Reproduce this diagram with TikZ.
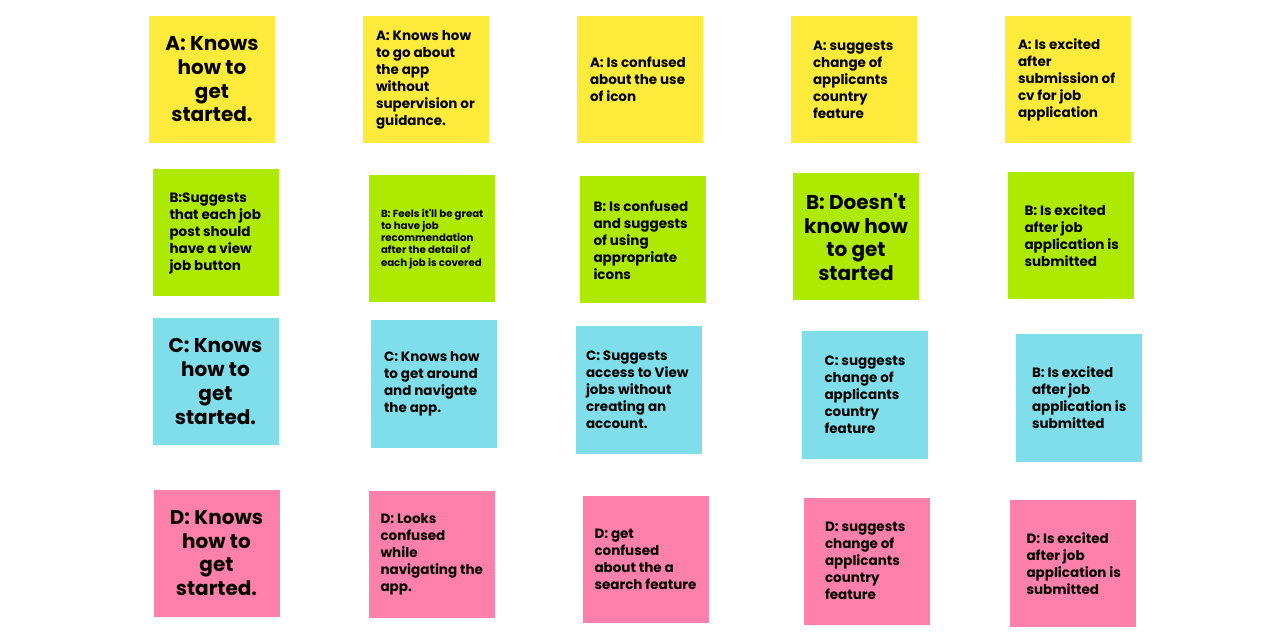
\documentclass[tikz,border=0pt]{standalone}
\usepackage{fontspec}
\setmainfont{Poppins}
\usepackage{tikz}
\usetikzlibrary{positioning}
\definecolor{NoteYellow}{RGB}{255,235,59}
\definecolor{NoteLime}{RGB}{174,234,0}
\definecolor{NoteCyan}{RGB}{128,222,234}
\definecolor{NotePink}{RGB}{255,128,171}
\tikzset{
  note/.style={fill=#1, minimum width=126pt, minimum height=127pt, inner sep=0pt,
    align=center, font=\bfseries\fontsize{20}{23.7}\selectfont},
  txt/.style={align=left, inner sep=0pt, font=\bfseries\fontsize{13.5}{17}\selectfont},
  tinytxt/.style={txt, font=\bfseries\fontsize{10.2}{12.2}\selectfont}
}
\begin{document}
\begin{tikzpicture}[x=1pt, y=-1pt]
        \useasboundingbox (0,0) rectangle (1283,644);
        % row A
        \node[note=NoteYellow] (a1) at (212,79.5) {A: Knows\\how to\\get\\started.};
        \node[note=NoteYellow] (a2) at (426,79.5) {};
        \node[note=NoteYellow] (a3) at (640,79.5) {};
        \node[note=NoteYellow] (a4) at (854,79.5) {};
        \node[note=NoteYellow] (a5) at (1068,79.5) {};
        \node[txt, right=13pt of a2.west] (ta2) {A: Knows how\\to go about\\the app\\without\\supervision or\\guidance.};
        \node[txt, right=13pt of a3.west] (ta3) {A: Is confused\\about the use\\of icon};
        \node[txt, right=22pt of a4.west] (ta4) {A: suggests\\change of\\applicants\\country\\feature};
        \node[txt, right=13pt of a5.west] (ta5) {A: Is excited\\after\\submission of\\cv for job\\application};
        % row B
        \node[note=NoteLime] (b1) at (215.5,233) {};
        \node[note=NoteLime] (b2) at (432,239) {};
        \node[note=NoteLime] (b3) at (642.5,240) {};
        \node[note=NoteLime] (b4) at (856,237) {B: Doesn\textquotesingle t\\know how\\to get\\started};
        \node[note=NoteLime] (b5) at (1070.5,236) {};
        \node[txt, right=17pt of b1.west] (tb1) {B:Suggests\\that each job\\post should\\have a view\\job button};
        \node[tinytxt, right=12pt of b2.west] (tb2) {B: Feels it\textquotesingle ll be great\\to have job\\recommendation\\after the detail of\\each job is covered};
        \node[txt, right=14pt of b3.west] (tb3) {B: Is confused\\and suggests\\of using\\appropriate\\icons};
        \node[txt, right=17pt of b5.west] (tb5) {B: Is excited\\after job\\application is\\submitted};
        % row C
        \node[note=NoteCyan] (c1) at (215.5,381.5) {C: Knows\\how to\\get\\started.};
        \node[note=NoteCyan] (c2) at (434,384) {};
        \node[note=NoteCyan] (c3) at (639,390) {};
        \node[note=NoteCyan] (c4) at (864.5,395) {};
        \node[note=NoteCyan] (c5) at (1079,398) {};
        \node[txt, right=13pt of c2.west] (tc2) {C: Knows how\\to get around\\and navigate\\the app.};
        \node[txt, right=10pt of c3.west] (tc3) {C: Suggests\\access to View\\jobs without\\creating an\\account.};
        \node[txt, right=23pt of c4.west] (tc4) {C: suggests\\change of\\applicants\\country\\feature};
        \node[txt, right=16pt of c5.west] (tc5) {B: Is excited\\after job\\application is\\submitted};
        % row D
        \node[note=NotePink] (d1) at (216.5,553) {D: Knows\\how to\\get\\started.};
        \node[note=NotePink] (d2) at (431.5,554.5) {};
        \node[note=NotePink] (d3) at (645.5,559) {};
        \node[note=NotePink] (d4) at (867,561) {};
        \node[note=NotePink] (d5) at (1072.5,563.5) {};
        \node[txt, right=12pt of d2.west] (td2) {D: Looks\\confused\\while\\navigating the\\app.};
        \node[txt, right=12pt of d3.west] (td3) {D: get\\confused\\about the a\\search feature};
        \node[txt, right=21pt of d4.west] (td4) {D: suggests\\change of\\applicants\\country\\feature};
        \node[txt, right=17pt of d5.west] (td5) {D: Is excited\\after job\\application is\\submitted};
      \end{tikzpicture}
\end{document}
